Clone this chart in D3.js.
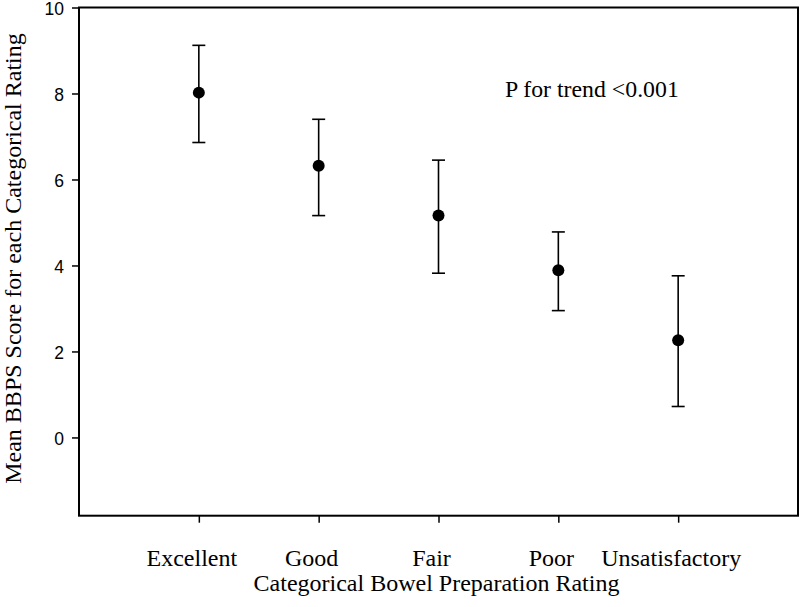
<!DOCTYPE html>
<html>
<head>
<meta charset="utf-8">
<script src="https://cdn.jsdelivr.net/npm/d3@7"></script>
<style>
  html, body { margin: 0; padding: 0; background: #fff; }
  svg { display: block; }
</style>
</head>
<body>
<svg id="chart" width="800" height="607"></svg>
<script>
const categories = ["Excellent", "Good", "Fair", "Poor", "Unsatisfactory"];
const means = [8.02, 6.32, 5.16, 3.89, 2.26];
const upper = [9.12, 7.40, 6.45, 4.78, 3.76];
const lower = [6.86, 5.16, 3.82, 2.95, 0.72];
const yTicks = [0, 2, 4, 6, 8, 10];
const annotation = "P for trend <0.001";
const xTitle = "Categorical Bowel Preparation Rating";
const yTitle = "Mean BBPS Score for each Categorical Rating";

(function () {
const svg = d3.select("#chart");
const mLeft = 79, mRight = 798, mTop = 7.5, mBottom = 515.7;

const x = d3.scaleLinear().domain([0, categories.length + 1]).range([mLeft, mRight]);
const y = d3.scaleLinear().domain([-1.82, 10]).range([mBottom, mTop]);

const serif = "'Liberation Serif', 'Times New Roman', serif";
const sans = "'Liberation Sans', Arial, sans-serif";

// y axis
const yAxis = svg.append("g")
  .attr("transform", `translate(${mLeft},0)`)
  .call(d3.axisLeft(y).tickValues(yTicks).tickSize(7).tickPadding(8).tickFormat(d3.format("d")));
yAxis.select(".domain").remove();
yAxis.selectAll("line").attr("stroke", "#000").attr("stroke-width", 1.5);
yAxis.selectAll("text").attr("font-family", sans).attr("font-size", 17.5).attr("fill", "#000")
  .attr("dy", "0.42em");

// x axis
const xAxis = svg.append("g")
  .attr("transform", `translate(0,${mBottom})`)
  .call(d3.axisBottom(x).tickValues(d3.range(1, categories.length + 1)).tickSize(7).tickPadding(26)
    .tickFormat(i => categories[i - 1]));
xAxis.select(".domain").remove();
xAxis.selectAll("line").attr("stroke", "#000").attr("stroke-width", 1.5);
xAxis.selectAll("text").attr("font-family", serif).attr("font-size", 24).attr("fill", "#000")
  .attr("dx", -7.5);

// frame
svg.append("rect")
  .attr("x", mLeft).attr("y", mTop)
  .attr("width", mRight - mLeft).attr("height", mBottom - mTop)
  .attr("fill", "none").attr("stroke", "#000").attr("stroke-width", 2);

// error bars
const g = svg.append("g");
const capHalf = 6.5;
categories.forEach((c, i) => {
  const cx = x(i + 1);
  g.append("line").attr("x1", cx).attr("x2", cx).attr("y1", y(upper[i])).attr("y2", y(lower[i]))
    .attr("stroke", "#000").attr("stroke-width", 1.6);
  g.append("line").attr("x1", cx - capHalf).attr("x2", cx + capHalf).attr("y1", y(upper[i])).attr("y2", y(upper[i]))
    .attr("stroke", "#000").attr("stroke-width", 1.6);
  g.append("line").attr("x1", cx - capHalf).attr("x2", cx + capHalf).attr("y1", y(lower[i])).attr("y2", y(lower[i]))
    .attr("stroke", "#000").attr("stroke-width", 1.6);
  g.append("circle").attr("cx", cx).attr("cy", y(means[i])).attr("r", 6).attr("fill", "#000");
});

// annotation
svg.append("text")
  .attr("x", 505).attr("y", 97)
  .attr("font-family", serif).attr("font-size", 23.8).attr("fill", "#000")
  .text(annotation);

// axis titles
svg.append("text")
  .attr("x", 436.5).attr("y", 591)
  .attr("text-anchor", "middle")
  .attr("font-family", serif).attr("font-size", 24).attr("fill", "#000")
  .text(xTitle);

svg.append("text")
  .attr("transform", `translate(21,258.5) rotate(-90)`)
  .attr("text-anchor", "middle")
  .attr("font-family", serif).attr("font-size", 24).attr("fill", "#000")
  .text(yTitle);
})();
</script>
</body>
</html>
